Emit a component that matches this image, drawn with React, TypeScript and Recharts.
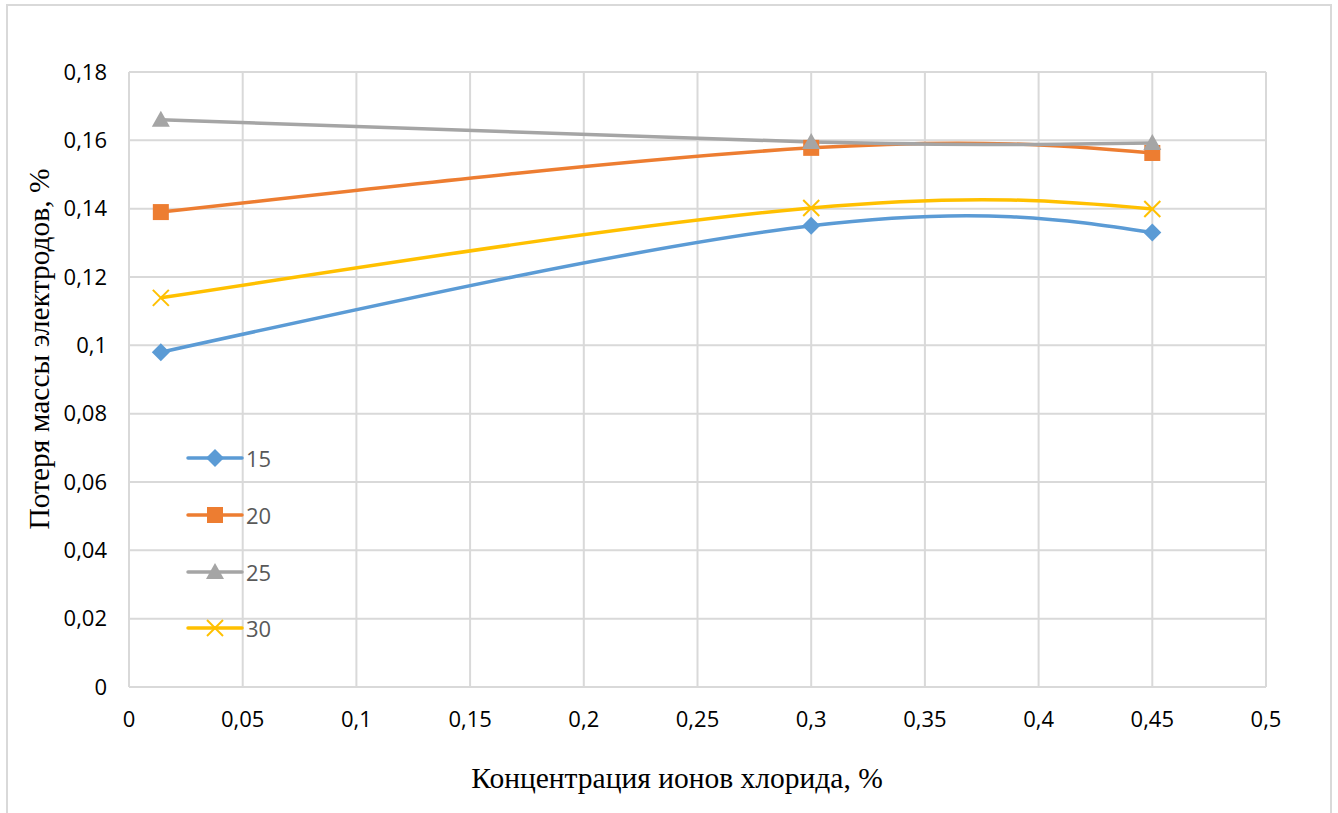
import React from 'react';
import { LineChart, Line, XAxis, YAxis, CartesianGrid } from 'recharts';

// Концентрация ионов хлорида, % (x values of the measured points)
const concentration = [0.014, 0.3, 0.45];

// Потеря массы электродов, % for each series
const series15 = [0.098, 0.135, 0.133];
const series20 = [0.139, 0.1578, 0.1563];
const series25 = [0.166, 0.1595, 0.1592];
const series30 = [0.1139, 0.1402, 0.1399];

const xTicks = [0, 0.05, 0.1, 0.15, 0.2, 0.25, 0.3, 0.35, 0.4, 0.45, 0.5];
const yTicks = [0, 0.02, 0.04, 0.06, 0.08, 0.1, 0.12, 0.14, 0.16, 0.18];

const data = concentration.map((x, i) => ({
  x,
  s15: series15[i],
  s20: series20[i],
  s25: series25[i],
  s30: series30[i],
}));

const SERIES = [
  { key: 's15', name: '15', color: '#5B9BD5', shape: 'diamond' },
  { key: 's20', name: '20', color: '#ED7D31', shape: 'square' },
  { key: 's25', name: '25', color: '#A5A5A5', shape: 'triangle' },
  { key: 's30', name: '30', color: '#FFC000', shape: 'cross' },
];

const fmt = (v: number) => String(v).replace('.', ',');
const tickFont = { fill: '#000', fontSize: 22, fontFamily: '"Open Sans", sans-serif' };

function Marker({ cx, cy, shape, color }: { cx: number; cy: number; shape: string; color: string }) {
  if (cx == null || cy == null) return null;
  if (shape === 'diamond') {
    const r = 9;
    return <polygon points={`${cx},${cy - r} ${cx + r},${cy} ${cx},${cy + r} ${cx - r},${cy}`} fill={color} />;
  }
  if (shape === 'square') {
    return <rect x={cx - 8} y={cy - 8} width={16} height={16} fill={color} />;
  }
  if (shape === 'triangle') {
    return <polygon points={`${cx},${cy - 9} ${cx + 9},${cy + 7} ${cx - 9},${cy + 7}`} fill={color} />;
  }
  const r = 8;
  return (
    <g stroke={color} strokeWidth={2}>
      <line x1={cx - r} y1={cy - r} x2={cx + r} y2={cy + r} />
      <line x1={cx - r} y1={cy + r} x2={cx + r} y2={cy - r} />
    </g>
  );
}

function LegendBox() {
  return (
    <div style={{ position: 'absolute', left: 185, top: 430 }}>
      {SERIES.map(s => (
        <div key={s.key} style={{ height: 56.7, display: 'flex', alignItems: 'center' }}>
          <svg width={60} height={24}>
            <line x1={3} y1={12} x2={57} y2={12} stroke={s.color} strokeWidth={3.5} strokeLinecap="round" />
            <Marker cx={30} cy={12} shape={s.shape} color={s.color} />
          </svg>
          <span style={{ fontFamily: '"Open Sans", sans-serif', fontSize: 22, color: '#595959', marginLeft: 1 }}>
            {s.name}
          </span>
        </div>
      ))}
    </div>
  );
}

export default function App() {
  return (
    <div style={{ position: 'absolute', left: 0, top: 0, width: 1338, height: 813, overflow: 'hidden', background: '#fff' }}>
      <div style={{ position: 'absolute', left: 6, top: 4, width: 1322, height: 840, border: '2px solid #d9d9d9' }} />
      <LineChart
        width={1338}
        height={813}
        data={data}
        margin={{ top: 72, right: 72, left: 69, bottom: 96 }}
        style={{ position: 'absolute', left: 0, top: 0 }}
      >
        <CartesianGrid stroke="#d9d9d9" strokeWidth={2} />
        <XAxis
          dataKey="x"
          type="number"
          domain={[0, 0.5]}
          ticks={xTicks}
          tickFormatter={fmt}
          height={30}
          stroke="#d9d9d9"
          strokeWidth={2}
          tickLine={false}
          tickSize={0}
          tickMargin={24}
          tick={tickFont}
        />
        <YAxis
          type="number"
          domain={[0, 0.18]}
          ticks={yTicks}
          tickFormatter={fmt}
          width={60}
          axisLine={false}
          tickLine={false}
          tickSize={0}
          tickMargin={22}
          tick={tickFont}
        />
        {SERIES.map(s => (
          <Line
            key={s.key}
            dataKey={s.key}
            name={s.name}
            type="natural"
            stroke={s.color}
            strokeWidth={3.5}
            isAnimationActive={false}
            dot={(p: any) => <Marker key={`${s.key}-${p.index}`} cx={p.cx} cy={p.cy} shape={s.shape} color={s.color} />}
            activeDot={false}
          />
        ))}
      </LineChart>
      <LegendBox />
      <div
        style={{
          position: 'absolute',
          left: 677,
          top: 778,
          transform: 'translate(-50%, -50%)',
          whiteSpace: 'nowrap',
          fontFamily: '"Liberation Serif", "Times New Roman", serif',
          fontSize: 29.5,
          color: '#000',
        }}
      >
        Концентрация ионов хлорида, %
      </div>
      <div
        style={{
          position: 'absolute',
          left: 39,
          top: 349,
          transform: 'translate(-50%, -50%) rotate(-90deg)',
          whiteSpace: 'nowrap',
          fontFamily: '"Liberation Serif", "Times New Roman", serif',
          fontSize: 29.5,
          color: '#000',
        }}
      >
        Потеря массы электродов, %
      </div>
    </div>
  );
}
